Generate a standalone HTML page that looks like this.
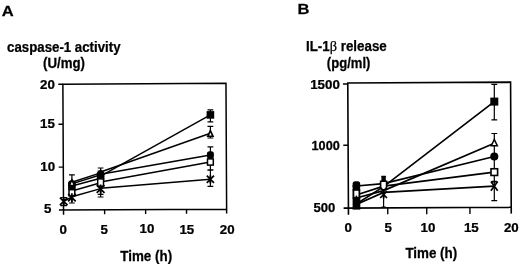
<!DOCTYPE html>
<html><head><meta charset="utf-8"><title>Figure</title>
<style>html,body{margin:0;padding:0;background:#fff}svg{display:block}</style></head>
<body><svg width="520" height="264" viewBox="0 0 520 264" stroke="#000" font-family="'Liberation Sans',sans-serif" font-weight="bold">
<rect width="520" height="264" fill="#fff" stroke="none"/>
<g stroke="#000" fill="#000">
<g stroke="#000" stroke-width="0.25"><text transform="translate(54.9,89.0) scale(1.11,1)" font-size="12" text-anchor="end" >20</text>
<text transform="translate(54.9,128.3) scale(1.11,1)" font-size="12" text-anchor="end" >15</text>
<text transform="translate(55.1,171.4) scale(1.11,1)" font-size="12" text-anchor="end" >10</text>
<text transform="translate(51.5,212.6) scale(1.11,1)" font-size="12" text-anchor="end" >5</text>
<text transform="translate(63.2,233.6) scale(1.11,1)" font-size="12" text-anchor="middle" >0</text>
<text transform="translate(104.3,233.6) scale(1.11,1)" font-size="12" text-anchor="middle" >5</text>
<text transform="translate(146.9,232.7) scale(1.11,1)" font-size="12" text-anchor="middle" >10</text>
<text transform="translate(186.8,233.7) scale(1.11,1)" font-size="12" text-anchor="middle" >15</text>
<text transform="translate(227.2,233.6) scale(1.11,1)" font-size="12" text-anchor="middle" >20</text>
<text transform="translate(63.8,52.2) scale(0.947,1)" font-size="14" text-anchor="middle" >caspase-1 activity</text>
<text transform="translate(64.0,68.4) scale(0.95,1)" font-size="14" text-anchor="middle" >(U/mg)</text>
<text transform="translate(146.2,260.6) scale(0.958,1)" font-size="14" text-anchor="middle" >Time (h)</text>
<text transform="translate(1.8,16.2) scale(1.07,1)" font-size="15.5" text-anchor="start" >A</text>
<text transform="translate(339.8,88.8) scale(1.11,1)" font-size="12" text-anchor="end" >1500</text>
<text transform="translate(339.8,150.4) scale(1.06,1)" font-size="12" text-anchor="end" >1000</text>
<text transform="translate(335.3,211.7) scale(1.09,1)" font-size="12" text-anchor="end" >500</text>
<text transform="translate(348.3,231.6) scale(1.11,1)" font-size="12" text-anchor="middle" >0</text>
<text transform="translate(388.3,231.6) scale(1.11,1)" font-size="12" text-anchor="middle" >5</text>
<text transform="translate(427.9,231.6) scale(1.11,1)" font-size="12" text-anchor="middle" >10</text>
<text transform="translate(471.3,231.6) scale(1.11,1)" font-size="12" text-anchor="middle" >15</text>
<text transform="translate(511.3,231.6) scale(1.11,1)" font-size="12" text-anchor="middle" >20</text>
<text x="306" y="51.1" font-size="14" textLength="80.8" lengthAdjust="spacingAndGlyphs">IL-1<tspan font-weight="normal" font-family="'Liberation Serif',serif" font-size="15">β</tspan> release</text>
<text transform="translate(348.6,67.5) scale(0.935,1)" font-size="14" text-anchor="middle" >(pg/ml)</text>
<text transform="translate(431.3,258.4) scale(0.958,1)" font-size="14" text-anchor="middle" >Time (h)</text>
<text transform="translate(297.6,13.5) scale(1.07,1)" font-size="15.5" text-anchor="start" >B</text></g>
<g transform="rotate(-0.3 144.75 146.7)"><path d="M63.2,214.25L63.2,83.75L226.3,83.75L226.3,213.85M58.6,209.65L226.3,209.65" fill="none" stroke-width="1.5"/><line x1="58.6" y1="83.85000000000001" x2="63.2" y2="83.85000000000001" stroke-width="1.4" /><line x1="58.6" y1="123.75" x2="63.2" y2="123.75" stroke-width="1.4" /><line x1="58.6" y1="166.65" x2="63.2" y2="166.65" stroke-width="1.4" /><line x1="104.3" y1="209.65" x2="104.3" y2="213.95000000000002" stroke-width="1.4" /><line x1="145.3" y1="209.65" x2="145.3" y2="213.95000000000002" stroke-width="1.4" /><line x1="186.2" y1="209.65" x2="186.2" y2="213.95000000000002" stroke-width="1.4" /></g>
<polyline fill="none" stroke-width="1.5" points="71.9,186.0 100.6,178.3"/>
<polyline fill="none" stroke-width="1.5" points="100.6,176.1 210.4,114.9"/>
<polyline fill="none" stroke-width="1.5" points="71.9,182.3 100.6,172.9"/>
<polyline fill="none" stroke-width="1.5" points="100.6,172.0 210.4,133.3"/>
<polyline fill="none" stroke-width="1.5" points="71.9,183.9 100.6,174.8"/>
<polyline fill="none" stroke-width="1.5" points="100.6,174.3 210.4,155.0"/>
<polyline fill="none" stroke-width="1.5" points="71.9,191.0 100.6,182.7"/>
<polyline fill="none" stroke-width="1.5" points="100.6,182.0 210.4,162.0"/>
<polyline fill="none" stroke-width="1.5" points="71.9,196.7 100.6,188.6"/>
<polyline fill="none" stroke-width="1.5" points="100.6,188.3 210.4,179.3"/>
<polyline fill="none" stroke-width="1.5" points="63.7,201.4 71.9,197.0"/>
<path d="M63.7,197.5L63.7,205.7M60.5,197.5L66.9,197.5M60.5,205.7L66.9,205.7" fill="none" stroke-width="1.2"/>
<path d="M71.9,174.9L71.9,203.0M69.0,174.9L74.80000000000001,174.9M69.0,203.0L74.80000000000001,203.0" fill="none" stroke-width="1.2"/>
<path d="M100.6,168.0L100.6,194.4M97.69999999999999,168.0L103.5,168.0M97.69999999999999,194.4L103.5,194.4" fill="none" stroke-width="1.2"/>
<path d="M100.6,171.0L100.6,197.0M97.69999999999999,171.0L103.5,171.0M97.69999999999999,197.0L103.5,197.0" fill="none" stroke-width="1.2"/>
<path d="M210.4,109.8L210.4,121.9M207.5,109.8L213.3,109.8M207.5,121.9L213.3,121.9" fill="none" stroke-width="1.2"/>
<path d="M210.4,126.3L210.4,138.0M207.5,126.3L213.3,126.3M207.5,138.0L213.3,138.0" fill="none" stroke-width="1.2"/>
<path d="M210.4,146.9L210.4,170.0M207.5,146.9L213.3,146.9M207.5,170.0L213.3,170.0" fill="none" stroke-width="1.2"/>
<path d="M210.4,170.0L210.4,186.3M207.5,170.0L213.3,170.0M207.5,186.3L213.3,186.3" fill="none" stroke-width="1.2"/>
<rect x="68.10000000000001" y="182.2" width="7.6" height="7.6" fill="#000" stroke="none"/>
<rect x="68.4" y="180.3" width="7.0" height="7.4" rx="2.6" ry="2.8" fill="#000" stroke="none"/>
<polygon points="71.9,179.8 69.30000000000001,185.5 74.5,185.5" fill="#fff" stroke-width="1.6" stroke-linejoin="miter"/>
<rect x="69.0" y="189.70000000000002" width="5.8" height="6.2" fill="#fff" stroke-width="1.5"/>
<path d="M68.10000000000001,193.79999999999998L75.7,201.4M68.10000000000001,201.4L75.7,193.79999999999998M71.9,193.29999999999998L71.9,201.9" fill="none" stroke-width="1.7"/>
<polygon points="100.6,170.0 98.0,175.7 103.19999999999999,175.7" fill="#fff" stroke-width="1.6" stroke-linejoin="miter"/>
<rect x="96.8" y="172.6" width="7.6" height="7.6" fill="#000" stroke="none"/>
<rect x="97.1" y="170.70000000000002" width="7.0" height="7.4" rx="2.6" ry="2.8" fill="#000" stroke="none"/>
<rect x="97.69999999999999" y="178.9" width="5.8" height="7.3" fill="#fff" stroke-width="1.5"/>
<path d="M96.69999999999999,185.1L104.5,192.9M96.69999999999999,192.9L104.5,185.1M100.6,184.6L100.6,193.4" fill="none" stroke-width="1.7"/>
<rect x="206.6" y="111.10000000000001" width="7.6" height="7.6" fill="#000" stroke="none"/>
<rect x="206.9" y="151.3" width="7.0" height="7.4" rx="2.6" ry="2.8" fill="#000" stroke="none"/>
<polygon points="210.4,130.6 207.8,136.29999999999998 213.0,136.29999999999998" fill="#fff" stroke-width="1.6" stroke-linejoin="miter"/>
<rect x="207.5" y="158.9" width="5.8" height="6.2" fill="#fff" stroke-width="1.5"/>
<path d="M206.8,175.70000000000002L214.0,182.9M206.8,182.9L214.0,175.70000000000002M210.4,175.20000000000002L210.4,183.4" fill="none" stroke-width="1.7"/>
<path d="M59.900000000000006,197.6L67.5,205.20000000000002M59.900000000000006,205.20000000000002L67.5,197.6M63.7,197.1L63.7,205.70000000000002" fill="none" stroke-width="1.7"/>
<g transform="rotate(-0.3 429.3 144.9)"><path d="M348.1,214.25L348.1,82.5L510.9,82.5L510.9,214.05M343.3,207.65L510.9,207.65" fill="none" stroke-width="1.6"/><line x1="343.3" y1="83.5" x2="348.1" y2="83.5" stroke-width="1.4" /><line x1="343.3" y1="144.8" x2="348.1" y2="144.8" stroke-width="1.4" /><line x1="387.4" y1="207.65" x2="387.4" y2="214.15" stroke-width="1.4" /><line x1="426.4" y1="207.65" x2="426.4" y2="214.15" stroke-width="1.4" /><line x1="469.6" y1="207.65" x2="469.6" y2="214.15" stroke-width="1.4" /></g>
<polyline fill="none" stroke-width="1.7" points="356.3,204.0 383.6,186.6 494.3,101.6"/>
<polyline fill="none" stroke-width="1.7" points="356.3,198.0 383.6,190.6 494.3,143.2"/>
<polyline fill="none" stroke-width="1.7" points="356.3,186.0 383.6,183.6 494.3,156.5"/>
<polyline fill="none" stroke-width="1.7" points="356.3,195.0 383.6,186.2 494.3,172.1"/>
<polyline fill="none" stroke-width="1.7" points="356.3,204.5 383.6,192.4 494.3,186.1"/>
<path d="M383.6,176.3L383.6,207.0M381.40000000000003,176.3L385.8,176.3M381.40000000000003,207.0L385.8,207.0" fill="none" stroke-width="1.2"/>
<path d="M494.3,84.4L494.3,119.8M491.40000000000003,84.4L497.2,84.4M491.40000000000003,119.8L497.2,119.8" fill="none" stroke-width="1.2"/>
<path d="M494.3,133.5L494.3,200.6M491.40000000000003,133.5L497.2,133.5M491.40000000000003,200.6L497.2,200.6" fill="none" stroke-width="1.2"/>
<rect x="490.3" y="97.6" width="8.0" height="8.0" fill="#000" stroke="none"/>
<circle cx="494.3" cy="156.5" r="4.05" fill="#000" stroke="none"/>
<polygon points="494.3,139.5 491.3,145.7 497.3,145.7" fill="#fff" stroke-width="1.5" stroke-linejoin="miter"/>
<rect x="491.0" y="168.75" width="6.6" height="6.7" fill="#fff" stroke-width="1.6"/>
<path d="M490.90000000000003,181.5L497.7,190.7M490.90000000000003,190.7L497.7,181.5M491.7,181.7L496.90000000000003,181.7" fill="none" stroke-width="1.7"/>
<rect x="352.59999999999997" y="181.2" width="7.6" height="8.0" rx="2.6" ry="2.8" fill="#000" stroke="none"/>
<rect x="352.7" y="185" width="7.4" height="5.5" fill="#000" stroke="none"/>
<rect x="352.6" y="197.6" width="7.7" height="12" fill="#000" stroke="none"/>
<rect x="353.4" y="189.9" width="6.0" height="7.8" fill="#fff" stroke-width="1.8"/>
<path d="M356.4,197.6L356.4,195.6" fill="none" stroke-width="1.4"/>
<rect x="381.4" y="176.2" width="4.4" height="5" fill="#000" stroke="none"/>
<path d="M380.6,181.3L386.6,181.3L386.6,186.5Q386.6,189.5 383.6,190 Q380.6,189.5 380.6,186.5Z" fill="#fff" stroke-width="1.6"/>
<path d="M380.20000000000005,191.2L387.0,198.0M380.20000000000005,198.0L387.0,191.2M383.6,190.7L383.6,198.5" fill="none" stroke-width="1.7"/>
</g></svg></body></html>
